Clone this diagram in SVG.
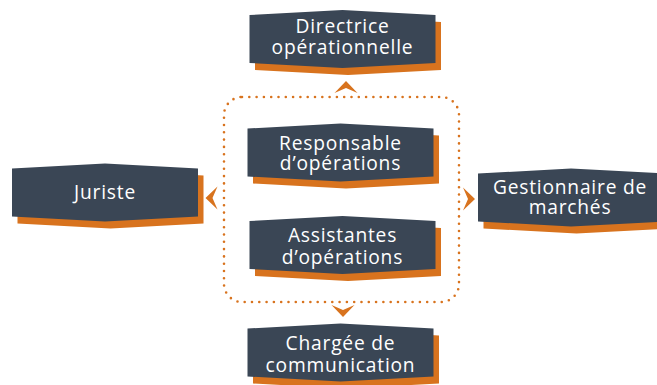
<svg xmlns="http://www.w3.org/2000/svg" xmlns:xlink="http://www.w3.org/1999/xlink" width="657" height="385" viewBox="0 0 657 385">
<style>
.box{fill:#3a4655}
.shadow{fill:#d8731e}
.lbl{fill:#ffffff;font-family:"Open Sans","Liberation Sans",sans-serif;font-size:19.2px;letter-spacing:0.8px;text-anchor:middle}
.dots{fill:none;stroke:#d8731e;stroke-width:2.6;stroke-linecap:round;stroke-dasharray:0 7.3}
.chev{fill:#d8731e}
</style>
<defs>
<path id="hex" d="M0,0 L93,-5 L186,0 L186,48 L93,53 L0,48 Z"/>
<path id="chev" d="M0,-6 L11.5,6 L0,1 L-11.5,6 Z"/>
</defs>
<g id="connectors">
<rect class="dots" x="224" y="97" width="235" height="205" rx="18"/>
<use href="#chev" class="chev" transform="translate(346,87)"/>
<use href="#chev" class="chev" transform="translate(343,311) rotate(180)"/>
<use href="#chev" class="chev" transform="translate(211.5,198) rotate(-90)"/>
<use href="#chev" class="chev" transform="translate(469,199) rotate(90)"/>
</g>
<g id="directrice">
<use href="#hex" class="shadow" transform="translate(255,22)"/>
<use href="#hex" class="box" transform="translate(249.5,15)"/>
<text class="lbl" x="342.5" y="33">Directrice</text>
<text class="lbl" x="342.5" y="53.5">opérationnelle</text>
</g>
<g id="responsable">
<use href="#hex" class="shadow" transform="translate(253,135.5)"/>
<use href="#hex" class="box" transform="translate(247.5,128.5)"/>
<text class="lbl" x="340.5" y="149.5">Responsable</text>
<text class="lbl" x="340.5" y="170">d’opérations</text>
</g>
<g id="assistantes">
<use href="#hex" class="shadow" transform="translate(255,228)"/>
<use href="#hex" class="box" transform="translate(249.5,221)"/>
<text class="lbl" x="342.5" y="242">Assistantes</text>
<text class="lbl" x="342.5" y="263.5">d’opérations</text>
</g>
<g id="juriste">
<use href="#hex" class="shadow" transform="translate(17.5,175.5)"/>
<use href="#hex" class="box" transform="translate(12,168.5)"/>
<text class="lbl" x="105" y="198.5">Juriste</text>
</g>
<g id="gestionnaire">
<use href="#hex" class="shadow" transform="translate(483.5,180.5)"/>
<use href="#hex" class="box" transform="translate(478,173.5)"/>
<text class="lbl" x="570" y="193.5">Gestionnaire de</text>
<text class="lbl" x="570" y="213.5">marchés</text>
</g>
<g id="chargee">
<use href="#hex" class="shadow" transform="translate(253,335.5)"/>
<use href="#hex" class="box" transform="translate(247.5,328.5)"/>
<text class="lbl" x="340.5" y="350">Chargée de</text>
<text class="lbl" x="340.5" y="371.5">communication</text>
</g>
</svg>
